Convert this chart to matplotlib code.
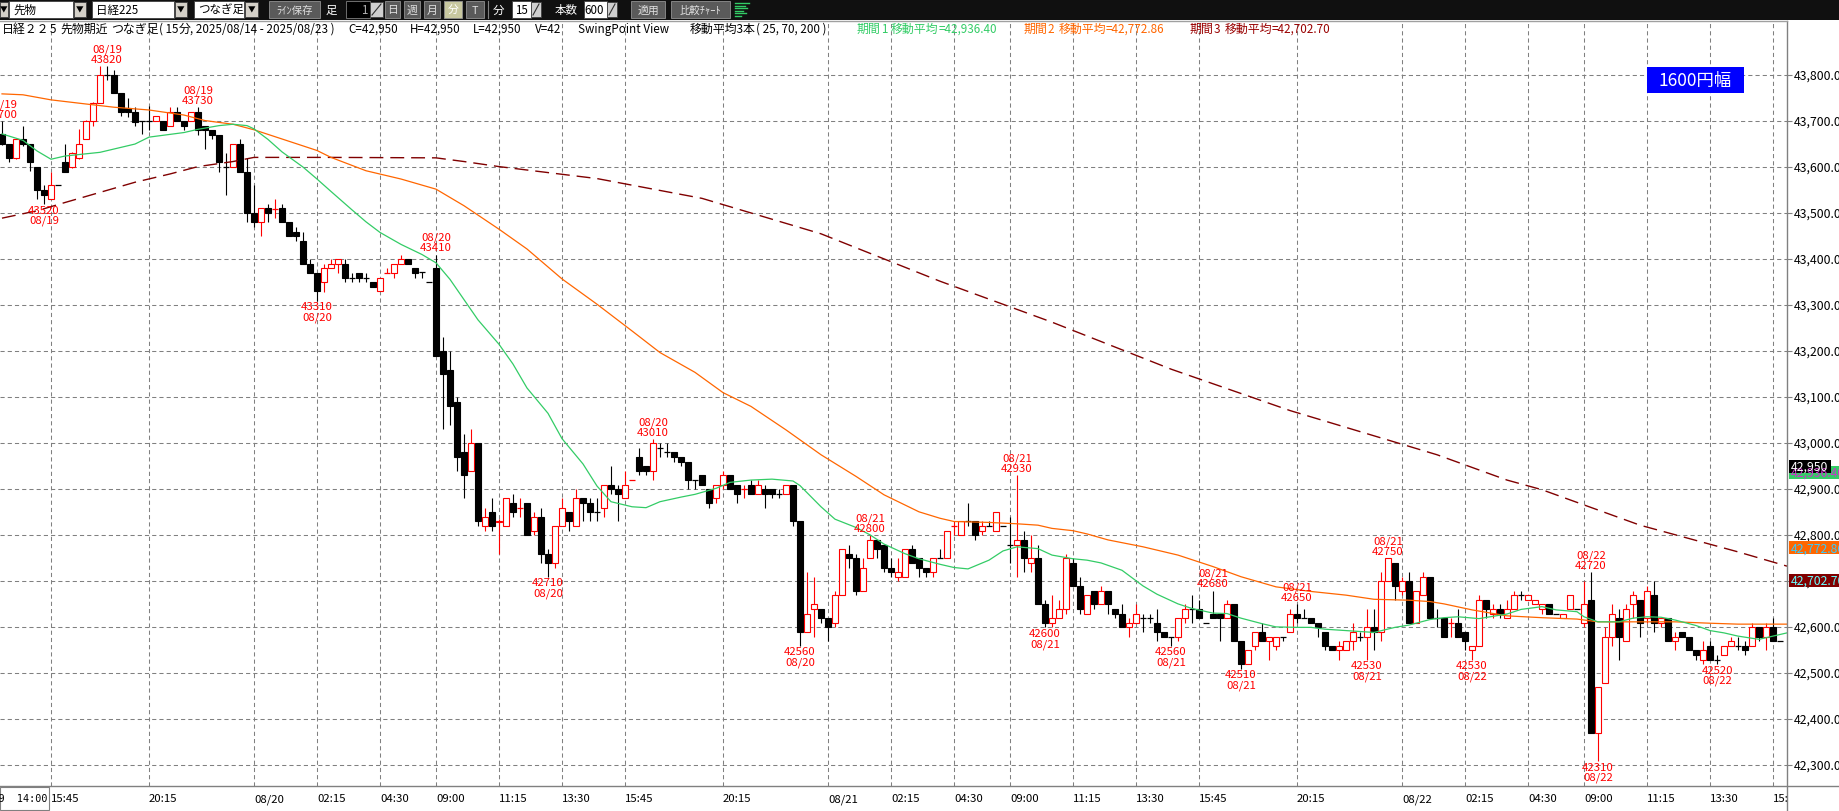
import matplotlib
matplotlib.use("Agg")
import matplotlib.pyplot as plt
from matplotlib.patches import Rectangle
from matplotlib.lines import Line2D
import numpy as np

plt.rcParams['font.family'] = ['Noto Sans CJK JP', 'DejaVu Sans']
plt.rcParams['lines.scale_dashes'] = False

# ---------------- data ----------------
opens = [43672,43650,43620,43660,43650,43600,43550,43530,43562,43610,43600,43620,43661,43700,43740,43800,43800,43760,43728,43720,
         43700,43700,43700,43700,43690,43720,43700,43700,43720,43690,43680,43670,43600,43600,43650,43590,43500,43480,43510,43508,
         43510,43480,43460,43440,43390,43370,43351,43380,43390,43390,43360,43370,43360,43350,43330,43370,43370,43390,43400,43380,
         43371,43350,43380,43200,43160,43090,42980,42940,43000,42820,42850,42828,42820,42870,42860,42870,42810,42840,42760,42740,
         42820,42850,42820,42880,42870,42851,42860,42910,42900,42882,42920,42970,42950,42940,42990,42980,42980,42970,42960,42920,
         42930,42900,42880,42910,42930,42910,42900,42910,42890,42900,42900,42890,42890,42910,42830,42590,42640,42640,42620,42610,
         42670,42760,42750,42680,42750,42790,42780,42730,42710,42710,42770,42750,42730,42720,42750,42750,42820,42800,42830,42830,
         42810,42820,42810,42820,42780,42780,42790,42740,42750,42650,42610,42620,42640,42740,42690,42630,42680,42650,42680,42640,
         42630,42600,42610,42620,42620,42610,42589,42580,42580,42620,42640,42640,42610,42630,42630,42620,42650,42570,42520,42560,
         42590,42570,42560,42580,42590,42630,42620,42620,42610,42590,42560,42550,42550,42570,42580,42580,42600,42590,42700,42740,
         42680,42700,42610,42670,42710,42620,42620,42609,42610,42590,42550,42560,42660,42630,42640,42620,42640,42670,42660,42650,
         42640,42650,42630,42620,42640,42640,42610,42660,42370,42480,42580,42620,42570,42650,42660,42620,42670,42610,42620,42570,
         42590,42580,42550,42530,42560,42530,42540,42560,42560,42560,42560,42600,42580,42600,42570]
highs = [43700,43650,43662,43690,43650,43600,43560,43590,43562,43650,43632,43682,43702,43742,43820,43820,43810,43760,43750,43730,
         43700,43733,43710,43700,43730,43730,43700,43720,43730,43690,43680,43670,43630,43650,43661,43620,43560,43510,43520,43530,
         43520,43480,43470,43460,43400,43370,43390,43400,43400,43400,43370,43370,43370,43350,43360,43380,43390,43410,43400,43380,
         43371,43350,43410,43230,43200,43100,43020,43030,43000,42860,42880,42835,42880,42890,42880,42870,42850,42860,42770,42820,
         42880,42850,42900,42880,42880,42880,42910,42950,42910,42940,42921,42990,42950,43010,43000,43000,42980,42970,42960,42920,
         42930,42900,42910,42940,42930,42910,42910,42920,42920,42910,42900,42900,42910,42910,42830,42720,42710,42640,42620,42680,
         42770,42780,42760,42750,42800,42790,42780,42750,42750,42770,42780,42750,42730,42750,42770,42810,42830,42830,42870,42830,
         42830,42830,42850,42820,42840,42930,42810,42800,42780,42660,42670,42660,42760,42750,42710,42670,42680,42690,42680,42640,
         42650,42620,42650,42630,42630,42640,42589,42580,42620,42650,42670,42660,42610,42680,42630,42660,42650,42570,42550,42590,
         42610,42580,42580,42580,42640,42650,42640,42620,42610,42590,42560,42570,42570,42610,42590,42640,42640,42720,42750,42740,
         42710,42720,42680,42720,42710,42640,42620,42620,42640,42590,42560,42670,42660,42650,42650,42660,42680,42680,42670,42660,
         42650,42650,42630,42630,42670,42640,42700,42720,42470,42600,42650,42640,42650,42680,42660,42690,42700,42620,42620,42590,
         42590,42580,42550,42570,42570,42540,42560,42580,42580,42570,42610,42600,42610,42620,42570]
lows = [43648,43610,43618,43645,43592,43530,43520,43530,43562,43590,43598,43618,43660,43690,43740,43790,43760,43710,43709,43690,
        43671,43680,43700,43680,43690,43700,43680,43700,43670,43640,43660,43590,43540,43600,43590,43480,43470,43450,43480,43490,
        43480,43450,43440,43390,43370,43310,43328,43380,43370,43350,43350,43350,43350,43340,43330,43370,43360,43390,43390,43360,
        43360,43350,43190,43030,43040,42940,42880,42940,42820,42810,42810,42760,42820,42840,42840,42800,42800,42740,42710,42730,
        42820,42810,42820,42830,42830,42830,42840,42890,42830,42880,42920,42930,42930,42920,42970,42970,42960,42950,42900,42900,
        42910,42860,42870,42900,42900,42870,42880,42890,42890,42860,42880,42880,42890,42820,42560,42590,42580,42610,42570,42600,
        42670,42730,42670,42680,42750,42750,42720,42710,42700,42710,42740,42710,42710,42710,42750,42750,42800,42800,42820,42790,
        42800,42820,42810,42820,42740,42710,42720,42720,42650,42600,42600,42620,42630,42690,42630,42630,42640,42650,42630,42620,
        42600,42580,42610,42590,42610,42570,42580,42560,42570,42610,42610,42620,42610,42620,42570,42620,42570,42510,42520,42550,
        42570,42530,42550,42570,42590,42610,42620,42610,42580,42550,42550,42530,42550,42550,42570,42530,42550,42570,42700,42660,
        42670,42610,42610,42670,42620,42600,42580,42580,42580,42550,42530,42560,42620,42620,42620,42620,42640,42660,42660,42650,
        42630,42630,42630,42620,42640,42640,42600,42370,42310,42480,42560,42530,42570,42620,42580,42610,42590,42600,42570,42550,
        42580,42550,42530,42520,42530,42520,42540,42560,42550,42540,42560,42570,42550,42570,42570]
closes = [43650,43620,43660,43650,43610,43550,43540,43560,43562,43590,43630,43650,43700,43740,43800,43800,43760,43720,43720,43698,
          43700,43700,43710,43680,43720,43700,43690,43720,43680,43680,43670,43610,43600,43650,43590,43500,43480,43510,43500,43510,
          43480,43450,43450,43390,43370,43330,43380,43390,43400,43360,43360,43360,43360,43340,43360,43372,43390,43400,43390,43370,
          43371,43350,43190,43150,43080,42970,42930,43000,42830,42840,42820,42832,42880,42850,42862,42800,42840,42760,42740,42820,
          42860,42830,42880,42870,42850,42851,42910,42900,42890,42910,42921,42940,42940,43000,42990,42980,42970,42960,42920,42920,
          42910,42870,42910,42930,42900,42890,42901,42890,42910,42890,42890,42890,42910,42830,42590,42630,42650,42620,42600,42670,
          42770,42750,42680,42730,42790,42770,42730,42720,42720,42770,42740,42730,42720,42750,42750,42810,42821,42830,42830,42800,
          42820,42820,42850,42820,42780,42790,42750,42750,42650,42610,42620,42640,42750,42690,42640,42670,42650,42680,42650,42630,
          42600,42610,42630,42620,42620,42590,42580,42580,42620,42640,42640,42620,42610,42620,42620,42650,42570,42520,42550,42590,
          42570,42580,42580,42580,42630,42620,42620,42610,42600,42560,42550,42560,42570,42590,42580,42600,42590,42700,42750,42690,
          42700,42610,42680,42710,42620,42620,42580,42611,42580,42570,42560,42660,42640,42640,42630,42640,42670,42670,42670,42660,
          42650,42630,42630,42630,42670,42640,42650,42370,42470,42580,42630,42580,42640,42670,42610,42680,42610,42620,42570,42580,
          42580,42550,42540,42550,42530,42530,42560,42570,42560,42550,42600,42580,42600,42570,42570]

# moving averages (bar index, value)
ma25_bar = [0,3,5,7,9,14,19,21,26,28,31,33,35,36,38,40,43,45,47,50,52,54,57,60,62,64,66,68,71,73,75,78,80,83,85,87,90,92,94,97,
            99,102,104,107,110,113,114,117,119,122,124,126,129,131,134,136,138,141,143,145,148,150,153,155,157,160,163,165,168,170,
            173,175,177,180,182,185,187,189,192,194,196,199,201,204,206,208,211,213,215,217,220,222,225,226,228,231,233,235,237,239,
            242,244,246,248,251,253,255]
ma25_val = [43672,43658,43635,43617,43624,43632,43650,43665,43675,43682,43690,43693,43690,43683,43660,43633,43600,43574,43547,43507,
            43481,43458,43432,43410,43392,43356,43312,43268,43215,43172,43120,43065,43010,42955,42907,42873,42862,42860,42873,42883,
            42889,42902,42915,42920,42922,42918,42908,42862,42835,42817,42801,42781,42760,42749,42737,42730,42727,42746,42766,42775,
            42771,42757,42749,42746,42740,42724,42690,42672,42651,42641,42631,42630,42620,42608,42601,42600,42600,42596,42593,42591,
            42589,42600,42605,42617,42621,42623,42619,42624,42629,42639,42645,42638,42634,42623,42612,42612,42620,42623,42622,42616,
            42604,42593,42588,42581,42574,42581,42588]
ma70_bar = [0,3,7,12,16,21,26,29,33,36,40,45,47,52,57,62,66,71,75,80,85,90,94,99,103,107,112,117,122,126,131,134,136,141,145,148,
            150,153,155,158,160,163,168,173,177,182,187,192,196,201,204,206,210,215,220,225,228,234,239,244,248,255]
ma70_val = [43759,43757,43746,43737,43730,43724,43713,43701,43693,43681,43661,43636,43621,43592,43574,43552,43516,43465,43422,43357,
            43302,43244,43197,43154,43110,43080,43029,42975,42928,42888,42851,42837,42830,42828,42825,42822,42815,42810,42803,42790,
            42784,42775,42757,42732,42710,42688,42678,42670,42661,42659,42656,42651,42638,42625,42621,42618,42612,42612,42612,42609,
            42607,42607]
ma200_bar = [0,5,9,14,19,24,28,33,36,47,62,66,71,85,100,117,134,150,167,184,198,205,215,220,234,248,255]
ma200_val = [43489,43505,43523,43545,43567,43585,43601,43612,43621,43621,43620,43612,43601,43575,43532,43455,43352,43263,43161,43071,
             43007,42975,42920,42899,42822,42764,42733]

# swing point labels
swing_bar = [0, 6, 15, 28, 45, 62, 78, 93, 114, 124, 145, 149, 167, 173, 177, 185, 195, 198, 210, 227, 228, 245]
swing_kind = ['H','L','H','H','L','H','L','H','L','H','H','L','L','H','L','H','L','H','L','H','L','L']
swing_price = [43700,43520,43820,43730,43310,43410,42710,43010,42560,42800,42930,42600,42560,42680,42510,42650,42530,42750,42530,42720,42310,42520]
swing_date = ['08/19','08/19','08/19','08/19','08/20','08/20','08/20','08/20','08/20','08/21','08/21','08/21','08/21','08/21','08/21',
              '08/21','08/21','08/21','08/22','08/22','08/22','08/22']

# time axis labels
tick_bar = [7,21,36,45,54,62,71,80,89,103,118,127,136,144,153,162,171,185,200,209,218,226,235,244,253]
tick_text = ['15:45','20:15','08/20','02:15','04:30','09:00','11:15','13:30','15:45','20:15','08/21','02:15','04:30','09:00',
             '11:15','13:30','15:45','20:15','08/22','02:15','04:30','09:00','11:15','13:30','15:45']
price_levels = [42300,42400,42500,42600,42700,42800,42900,43000,43100,43200,43300,43400,43500,43600,43700,43800]

last_close = 42950
ma_last = [42936.40, 42772.86, 42702.70]

# ---------------- layout ----------------
W, H = 1839, 812
fig = plt.figure(figsize=(W/100, H/100), dpi=100)
fig.patch.set_facecolor('white')
renderer = fig.canvas.get_renderer()

PR, PT, PB = 1787.0, 21.5, 787.0
PX_PER_BAR = 7.0
Y76, SCALE = 76.0, 0.4603
Y_TOP = 43800 + (Y76 - PT) / SCALE
Y_BOT = 43800 - (PB - Y76) / SCALE

def frect(x0, y0, x1, y1, **kw):
    fig.patches.append(Rectangle((x0/W, 1-y1/H), (x1-x0)/W, (y1-y0)/H, transform=fig.transFigure, **kw))

def ftext(x, y, s, **kw):
    return fig.text(x/W, 1-y/H, s, **kw)

def fline(x0, y0, x1, y1, **kw):
    fig.add_artist(Line2D([x0/W, x1/W], [1-y0/H, 1-y1/H], transform=fig.transFigure, **kw))

ax = fig.add_axes([0, 1-PB/H, PR/W, (PB-PT)/H])
ax.set_xlim(-2/PX_PER_BAR, (PR-2)/PX_PER_BAR)
ax.set_ylim(Y_BOT, Y_TOP)
ax.axis('off')

GRID = '#808080'
dash = (0, (3.0, 2.2))
ax.hlines(price_levels, *ax.get_xlim(), colors=GRID, linestyles=[dash], lw=0.75, zorder=1)
ax.vlines(tick_bar, Y_BOT, Y_TOP, colors=GRID, linestyles=[dash], lw=0.75, zorder=1)

# candles
o = np.array(opens); h = np.array(highs); l = np.array(lows); c = np.array(closes)
xb = np.arange(len(o))
up = c > o
col = np.where(up, '#FF0000', '#000000')
ax.vlines(xb, l, h, colors=col, lw=0.8, zorder=3)
bw = 0.72
for i in xb:
    if abs(c[i] - o[i]) < 3:
        ax.hlines(o[i], i - bw/2, i + bw/2, colors=col[i], lw=0.9, zorder=4)
    else:
        ax.add_patch(Rectangle((i - bw/2, min(o[i], c[i])), bw, abs(c[i]-o[i]),
                               facecolor='white' if up[i] else 'black', edgecolor=col[i], lw=0.8, zorder=4))

# moving averages
ax.plot(ma200_bar, ma200_val, color='#800000', lw=1.0, ls=(0, (10, 5)), zorder=5)
ax.plot(ma70_bar, ma70_val, color='#FF6600', lw=0.9, zorder=5)
ax.plot(ma25_bar, ma25_val, color='#33CC66', lw=0.9, zorder=5)

# swing labels
for b, k, p, d in zip(swing_bar, swing_kind, swing_price, swing_date):
    if k == 'H':
        ax.annotate(f"{d}\n{p}", (b, p), xytext=(0, 1.5), textcoords='offset points', ha='center', va='bottom',
                    color='#FF0000', fontsize=8.2, linespacing=1.0, zorder=6, annotation_clip=False)
    else:
        ax.annotate(f"{p}\n{d}", (b, p), xytext=(0, -0.5), textcoords='offset points', ha='center', va='top',
                    color='#FF0000', fontsize=8.2, linespacing=1.0, zorder=6, annotation_clip=False)

# 1600円幅 box
frect(1647, 68, 1744, 94, facecolor='#0000FF', edgecolor='none', zorder=7)
ftext(1695.5, 81, '1600円幅', color='white', fontsize=12.5, ha='center', va='center', zorder=8)

# ---------------- right price axis ----------------
axr = fig.add_axes([PR/W, 1-PB/H, (W-PR)/W, (PB-PT)/H])
axr.set_xlim(0, W-PR)
axr.set_ylim(Y_BOT, Y_TOP)
axr.axis('off')
axr.hlines(price_levels, 0, 5, colors=GRID, lw=0.8)
for p in price_levels:
    axr.text(7, p, f"{p:,}.00", fontsize=8.8, va='center', ha='left', color='black', clip_on=False)

def price_box(p, text, bg, fg, x1, hpx=13):
    hh = hpx / SCALE
    axr.add_patch(Rectangle((1.5, p - hh/2), x1 - 1.5, hh, facecolor=bg, edgecolor='none', zorder=5, clip_on=False))
    axr.text(4, p, text, fontsize=8.8, va='center', ha='left', color=fg, zorder=6, clip_on=False)

price_box(ma_last[0], f"{ma_last[0]:,.2f}", '#33CC66', '#CC33CC', 52)
price_box(last_close, f"{last_close:,}", '#000000', 'white', 44)
price_box(ma_last[1], f"{ma_last[1]:,.2f}", '#FF6600', '#33CCFF', 52)
price_box(ma_last[2], f"{ma_last[2]:,.2f}", '#800000', '#66FFFF', 52)

# ---------------- bottom time axis ----------------
axb = fig.add_axes([0, 0, PR/W, (H-PB)/H])
axb.set_xlim(ax.get_xlim())
axb.set_ylim(0, 1)
axb.axis('off')
for b, t in zip(tick_bar, tick_text):
    axb.text(b, 0.5, t, fontsize=8.2, ha='left', va='center', color='black', clip_on=True)
frect(0, PB + 1, 49, H - 1, facecolor='white', edgecolor=GRID, lw=0.8, zorder=5)
ftext(48, 799.5, '08/19  14:00', fontsize=7.3, family=['DejaVu Sans Mono'], ha='right', va='center', zorder=6)

# frame lines
fline(0, PB, W, PB, color=GRID, lw=1.0)
fline(PR, PT, PR, H, color=GRID, lw=1.0)
fline(0, PT, PR, PT, color='#A0A0A0', lw=1.0)

# ---------------- header row ----------------
hy = 29.5
FA, FC = 8.4, 8.6   # ascii / CJK sizes

def run_text(x, y, runs, color):
    for s, fs, gap in runs:
        t = ftext(x, y, s, color=color, fontsize=fs, ha='left', va='center')
        x += t.get_window_extent(renderer).width + gap
    return x

run_text(2, hy, [('日経２２', FC, 0), ('5', FA, 4), ('先物期近', FC, 4), ('つなぎ足', FC, 0),
                 ('( 15', FA, 0), ('分', FC, 0), (', 2025/08/14 - 2025/08/23 )', FA, 0)], 'black')
for x, s in [(348, 'C=42,950'), (410, 'H=42,950'), (473, 'L=42,950'), (535, 'V=42'), (578, 'SwingPoint View')]:
    ftext(x, hy, s, color='black', fontsize=FA, ha='left', va='center')
run_text(690, hy, [('移動平均3本', FC, 0), ('( 25, 70, 200 )', FA, 0)], 'black')
MA_COLS = ['#33CC66', '#FF6600', '#990000']
for (x_lab, x_val), v, cl, n in zip([(857, 887), (1024, 1052), (1190, 1220)], ma_last, MA_COLS, ['1', '2', '3']):
    end = run_text(x_lab, hy, [('期間', FC, 0), (n, FA, 0)], cl)
    run_text(max(x_val, end + 4), hy, [('移動平均', FC, 0), (f'={v:,.2f}', FA, 0)], cl)

# ---------------- toolbar ----------------
frect(0, 0, W, 21, facecolor='#101010', edgecolor='none')
BTN = '#D4D0C8'
def field(x0, x1, s, align='left'):
    frect(x0, 2, x1, 19, facecolor='white', edgecolor='#404040', lw=0.6)
    if align == 'left':
        ftext(x0 + 4, 10.5, s, fontsize=8.3, color='black', va='center', ha='left')
    else:
        ftext(x1 - 3, 10.5, s, fontsize=8.3, color='black', va='center', ha='right')
def ddbtn(x0, x1):
    frect(x0, 3, x1, 18, facecolor=BTN, edgecolor='#404040', lw=0.6)
    ftext((x0+x1)/2, 10.5, '▼', fontsize=5.5, color='black', ha='center', va='center')
def gbtn(x0, x1, s, bg='#5A5A5A', fg='#E0E0E0', fs=7.8):
    frect(x0, 2, x1, 19, facecolor=bg, edgecolor='#909090', lw=0.6)
    ftext((x0+x1)/2, 10.5, s, fontsize=fs, color=fg, ha='center', va='center')
def spin(x0, x1):
    frect(x0, 3, x1, 18, facecolor='#CFCFCF', edgecolor='#404040', lw=0.6)
    fline(x0 + 2, 16, x1 - 2, 5, color='#303030', lw=0.8)

ddbtn(0, 8)
field(9, 73, '先物'); ddbtn(74, 86)
field(92, 174, '日経225'); ddbtn(175, 187)
field(194, 244, 'つなぎ足'); ddbtn(245, 258)
gbtn(269, 320, 'ﾗｲﾝ保存', fs=7.5)
ftext(326, 10.5, '足', fontsize=8.3, color='white', va='center')
frect(346, 2, 370, 19, facecolor='#000000', edgecolor='#808080', lw=0.6)
ftext(367, 10.5, '1', fontsize=8.3, color='#B0B0B0', ha='right', va='center')
spin(370, 383)
gbtn(385, 400, '日'); gbtn(404, 420, '週'); gbtn(424, 440, '月')
gbtn(444, 462, '分', bg='#C8C8A0', fg='white'); gbtn(466, 484, 'T')
fline(488, 2, 488, 19, color='#808080', lw=0.8)
ftext(493, 10.5, '分', fontsize=8.3, color='white', va='center')
field(512, 531, '15', align='right'); spin(531, 541)
ftext(555, 10.5, '本数', fontsize=8.3, color='white', va='center')
field(584, 607, '600', align='right'); spin(607, 617)
gbtn(631, 665, '適用')
gbtn(671, 730, '比較ﾁｬｰﾄ', fs=7.5)
for k, ln in enumerate([14, 10, 12, 8, 11, 6]):
    fline(735, 4 + k*2.5, 735 + ln, 4 + k*2.5, color='#33CC66', lw=1.0)

fig.savefig('out.png', dpi=100, facecolor='white')
